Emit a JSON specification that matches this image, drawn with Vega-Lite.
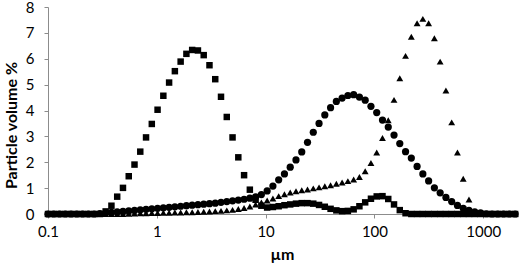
{
  "$schema": "https://vega.github.io/schema/vega-lite/v6.json",
  "width": 468,
  "height": 207,
  "autosize": {"type": "none"},
  "padding": {"left": 48, "top": 7, "right": 3, "bottom": 60},
  "config": {"view": {"stroke": null}, "font": "Lato"},
  "datasets": {
    "pts": [
      {"x":0.1,"s":"sq","v":0},{"x":0.113,"s":"sq","v":0},{"x":0.1276,"s":"sq","v":0},{"x":0.1442,"s":"sq","v":0},{"x":0.1629,"s":"sq","v":0},{"x":0.1841,"s":"sq","v":0},{"x":0.208,"s":"sq","v":0},{"x":0.235,"s":"sq","v":0},{"x":0.2655,"s":"sq","v":0},{"x":0.2999,"s":"sq","v":0},
      {"x":0.3388,"s":"sq","v":0.1},{"x":0.3828,"s":"sq","v":0.32},{"x":0.4325,"s":"sq","v":0.67},{"x":0.4887,"s":"sq","v":1.01},{"x":0.5521,"s":"sq","v":1.46},{"x":0.6237,"s":"sq","v":1.91},{"x":0.7047,"s":"sq","v":2.41},{"x":0.7962,"s":"sq","v":2.96},{"x":0.8995,"s":"sq","v":3.48},{"x":1.0162,"s":"sq","v":4.03},
      {"x":1.1482,"s":"sq","v":4.57},{"x":1.2972,"s":"sq","v":5.08},{"x":1.4655,"s":"sq","v":5.52},{"x":1.6558,"s":"sq","v":5.89},{"x":1.8707,"s":"sq","v":6.19},{"x":2.1135,"s":"sq","v":6.34},{"x":2.3878,"s":"sq","v":6.32},{"x":2.6977,"s":"sq","v":6.14},{"x":3.0479,"s":"sq","v":5.75},{"x":3.4435,"s":"sq","v":5.21},
      {"x":3.8905,"s":"sq","v":4.53},{"x":4.3954,"s":"sq","v":3.75},{"x":4.9659,"s":"sq","v":2.96},{"x":5.6105,"s":"sq","v":2.19},{"x":6.3387,"s":"sq","v":1.5},{"x":7.1614,"s":"sq","v":0.94},{"x":8.091,"s":"sq","v":0.55},{"x":9.1411,"s":"sq","v":0.32},{"x":10.328,"s":"sq","v":0.25},{"x":11.668,"s":"sq","v":0.27},
      {"x":13.183,"s":"sq","v":0.3},{"x":14.894,"s":"sq","v":0.34},{"x":16.827,"s":"sq","v":0.37},{"x":19.011,"s":"sq","v":0.4},{"x":21.478,"s":"sq","v":0.42},{"x":24.266,"s":"sq","v":0.42},{"x":27.416,"s":"sq","v":0.4},{"x":30.974,"s":"sq","v":0.35},{"x":34.995,"s":"sq","v":0.28},{"x":39.537,"s":"sq","v":0.2},
      {"x":44.668,"s":"sq","v":0.14},{"x":50.466,"s":"sq","v":0.11},{"x":57.016,"s":"sq","v":0.12},{"x":64.417,"s":"sq","v":0.18},{"x":72.778,"s":"sq","v":0.3},{"x":82.224,"s":"sq","v":0.45},{"x":92.896,"s":"sq","v":0.59},{"x":104.95,"s":"sq","v":0.68},{"x":118.58,"s":"sq","v":0.69},{"x":133.97,"s":"sq","v":0.58},
      {"x":151.36,"s":"sq","v":0.37},{"x":171.0,"s":"sq","v":0.15},{"x":193.2,"s":"sq","v":0.03},{"x":218.27,"s":"sq","v":0},{"x":246.6,"s":"sq","v":0},{"x":278.61,"s":"sq","v":0},{"x":314.77,"s":"sq","v":0},{"x":355.63,"s":"sq","v":0},{"x":401.79,"s":"sq","v":0},{"x":453.94,"s":"sq","v":0},
      {"x":512.86,"s":"sq","v":0},{"x":579.42,"s":"sq","v":0},{"x":654.64,"s":"sq","v":0},{"x":739.6,"s":"sq","v":0},{"x":835.6,"s":"sq","v":0},{"x":944.06,"s":"sq","v":0},{"x":1066.6,"s":"sq","v":0},{"x":1205.0,"s":"sq","v":0},{"x":1361.4,"s":"sq","v":0},{"x":1538.1,"s":"sq","v":0},
      {"x":1737.8,"s":"sq","v":0},{"x":1963.4,"s":"sq","v":0},

      {"x":0.1,"s":"tr","v":0},{"x":0.113,"s":"tr","v":0},{"x":0.1276,"s":"tr","v":0},{"x":0.1442,"s":"tr","v":0},{"x":0.1629,"s":"tr","v":0},{"x":0.1841,"s":"tr","v":0},{"x":0.208,"s":"tr","v":0},{"x":0.235,"s":"tr","v":0},{"x":0.2655,"s":"tr","v":0},{"x":0.2999,"s":"tr","v":0},
      {"x":0.3388,"s":"tr","v":0},{"x":0.3828,"s":"tr","v":0},{"x":0.4325,"s":"tr","v":0},{"x":0.4887,"s":"tr","v":0},{"x":0.5521,"s":"tr","v":0.01},{"x":0.6237,"s":"tr","v":0.02},{"x":0.7047,"s":"tr","v":0.03},{"x":0.7962,"s":"tr","v":0.03},{"x":0.8995,"s":"tr","v":0.04},{"x":1.0162,"s":"tr","v":0.04},
      {"x":1.1482,"s":"tr","v":0.05},{"x":1.2972,"s":"tr","v":0.05},{"x":1.4655,"s":"tr","v":0.06},{"x":1.6558,"s":"tr","v":0.06},{"x":1.8707,"s":"tr","v":0.07},{"x":2.1135,"s":"tr","v":0.07},{"x":2.3878,"s":"tr","v":0.08},{"x":2.6977,"s":"tr","v":0.09},{"x":3.0479,"s":"tr","v":0.1},{"x":3.4435,"s":"tr","v":0.11},
      {"x":3.8905,"s":"tr","v":0.12},{"x":4.3954,"s":"tr","v":0.14},{"x":4.9659,"s":"tr","v":0.16},{"x":5.6105,"s":"tr","v":0.19},{"x":6.3387,"s":"tr","v":0.23},{"x":7.1614,"s":"tr","v":0.29},{"x":8.091,"s":"tr","v":0.37},{"x":9.1411,"s":"tr","v":0.45},{"x":10.328,"s":"tr","v":0.52},{"x":11.668,"s":"tr","v":0.6},
      {"x":13.183,"s":"tr","v":0.69},{"x":14.894,"s":"tr","v":0.76},{"x":16.827,"s":"tr","v":0.83},{"x":19.011,"s":"tr","v":0.88},{"x":21.478,"s":"tr","v":0.92},{"x":24.266,"s":"tr","v":0.95},{"x":27.416,"s":"tr","v":0.99},{"x":30.974,"s":"tr","v":1.03},{"x":34.995,"s":"tr","v":1.07},{"x":39.537,"s":"tr","v":1.11},
      {"x":44.668,"s":"tr","v":1.17},{"x":50.466,"s":"tr","v":1.22},{"x":57.016,"s":"tr","v":1.27},{"x":64.417,"s":"tr","v":1.33},{"x":72.778,"s":"tr","v":1.43},{"x":82.224,"s":"tr","v":1.65},{"x":92.896,"s":"tr","v":1.97},{"x":104.95,"s":"tr","v":2.38},{"x":118.58,"s":"tr","v":2.94},{"x":133.97,"s":"tr","v":3.62},
      {"x":151.36,"s":"tr","v":4.41},{"x":171.0,"s":"tr","v":5.25},{"x":193.2,"s":"tr","v":6.11},{"x":218.27,"s":"tr","v":6.85},{"x":246.6,"s":"tr","v":7.37},{"x":278.61,"s":"tr","v":7.54},{"x":314.77,"s":"tr","v":7.37},{"x":355.63,"s":"tr","v":6.79},{"x":401.79,"s":"tr","v":5.89},{"x":453.94,"s":"tr","v":4.77},
      {"x":512.86,"s":"tr","v":3.54},{"x":579.42,"s":"tr","v":2.38},{"x":654.64,"s":"tr","v":1.36},{"x":739.6,"s":"tr","v":0.56},{"x":835.6,"s":"tr","v":0.08},{"x":944.06,"s":"tr","v":0},{"x":1066.6,"s":"tr","v":0},{"x":1205.0,"s":"tr","v":0},{"x":1361.4,"s":"tr","v":0},{"x":1538.1,"s":"tr","v":0},
      {"x":1737.8,"s":"tr","v":0},{"x":1963.4,"s":"tr","v":0},

      {"x":0.1,"s":"ci","v":0},{"x":0.113,"s":"ci","v":0},{"x":0.1276,"s":"ci","v":0},{"x":0.1442,"s":"ci","v":0},{"x":0.1629,"s":"ci","v":0},{"x":0.1841,"s":"ci","v":0},{"x":0.208,"s":"ci","v":0},{"x":0.235,"s":"ci","v":0},{"x":0.2655,"s":"ci","v":0},{"x":0.2999,"s":"ci","v":0.02},
      {"x":0.3388,"s":"ci","v":0.04},{"x":0.3828,"s":"ci","v":0.06},{"x":0.4325,"s":"ci","v":0.08},{"x":0.4887,"s":"ci","v":0.1},{"x":0.5521,"s":"ci","v":0.12},{"x":0.6237,"s":"ci","v":0.14},{"x":0.7047,"s":"ci","v":0.16},{"x":0.7962,"s":"ci","v":0.18},{"x":0.8995,"s":"ci","v":0.2},{"x":1.0162,"s":"ci","v":0.22},
      {"x":1.1482,"s":"ci","v":0.24},{"x":1.2972,"s":"ci","v":0.26},{"x":1.4655,"s":"ci","v":0.28},{"x":1.6558,"s":"ci","v":0.3},{"x":1.8707,"s":"ci","v":0.32},{"x":2.1135,"s":"ci","v":0.34},{"x":2.3878,"s":"ci","v":0.36},{"x":2.6977,"s":"ci","v":0.38},{"x":3.0479,"s":"ci","v":0.4},{"x":3.4435,"s":"ci","v":0.42},
      {"x":3.8905,"s":"ci","v":0.45},{"x":4.3954,"s":"ci","v":0.48},{"x":4.9659,"s":"ci","v":0.51},{"x":5.6105,"s":"ci","v":0.54},{"x":6.3387,"s":"ci","v":0.57},{"x":7.1614,"s":"ci","v":0.61},{"x":8.091,"s":"ci","v":0.66},{"x":9.1411,"s":"ci","v":0.75},{"x":10.328,"s":"ci","v":0.89},{"x":11.668,"s":"ci","v":1.08},
      {"x":13.183,"s":"ci","v":1.32},{"x":14.894,"s":"ci","v":1.55},{"x":16.827,"s":"ci","v":1.81},{"x":19.011,"s":"ci","v":2.09},{"x":21.478,"s":"ci","v":2.4},{"x":24.266,"s":"ci","v":2.77},{"x":27.416,"s":"ci","v":3.16},{"x":30.974,"s":"ci","v":3.5},{"x":34.995,"s":"ci","v":3.83},{"x":39.537,"s":"ci","v":4.11},
      {"x":44.668,"s":"ci","v":4.35},{"x":50.466,"s":"ci","v":4.48},{"x":57.016,"s":"ci","v":4.58},{"x":64.417,"s":"ci","v":4.61},{"x":72.778,"s":"ci","v":4.52},{"x":82.224,"s":"ci","v":4.4},{"x":92.896,"s":"ci","v":4.16},{"x":104.95,"s":"ci","v":3.92},{"x":118.58,"s":"ci","v":3.63},{"x":133.97,"s":"ci","v":3.36},
      {"x":151.36,"s":"ci","v":3.05},{"x":171.0,"s":"ci","v":2.72},{"x":193.2,"s":"ci","v":2.41},{"x":218.27,"s":"ci","v":2.16},{"x":246.6,"s":"ci","v":1.84},{"x":278.61,"s":"ci","v":1.55},{"x":314.77,"s":"ci","v":1.28},{"x":355.63,"s":"ci","v":1.01},{"x":401.79,"s":"ci","v":0.82},{"x":453.94,"s":"ci","v":0.64},
      {"x":512.86,"s":"ci","v":0.48},{"x":579.42,"s":"ci","v":0.33},{"x":654.64,"s":"ci","v":0.22},{"x":739.6,"s":"ci","v":0.14},{"x":835.6,"s":"ci","v":0.08},{"x":944.06,"s":"ci","v":0.04},{"x":1066.6,"s":"ci","v":0.01},{"x":1205.0,"s":"ci","v":0},{"x":1361.4,"s":"ci","v":0},{"x":1538.1,"s":"ci","v":0},
      {"x":1737.8,"s":"ci","v":0},{"x":1963.4,"s":"ci","v":0}
    ]
  },
  "data": {"name": "pts"},
  "mark": {"type": "point", "filled": true, "opacity": 1, "color": "black"},
  "encoding": {
    "x": {
      "field": "x", "type": "quantitative",
      "scale": {"type": "log", "domain": [0.1, 2000], "nice": false},
      "axis": {
        "values": [0.1, 1, 10, 100, 1000], "format": "~g", "grid": false,
        "title": "µm", "titleFontSize": 16, "titleFontWeight": "bold", "titleColor": "black", "titlePadding": 7,
        "labelFontSize": 15, "labelColor": "black", "labelPadding": 6, "labelFlush": false,
        "domainColor": "#8c8c8c", "tickColor": "#8c8c8c", "tickSize": 4
      }
    },
    "y": {
      "field": "v", "type": "quantitative",
      "scale": {"domain": [0, 8], "nice": false},
      "axis": {
        "values": [0, 1, 2, 3, 4, 5, 6, 7, 8], "grid": false,
        "title": "Particle volume %", "titleFontSize": 16, "titleFontWeight": "bold", "titleColor": "black", "titlePadding": 6, "titleY": 118,
        "labelFontSize": 15, "labelColor": "black", "labelPadding": 10,
        "domainColor": "#8c8c8c", "tickColor": "#8c8c8c", "tickSize": 4
      }
    },
    "shape": {
      "field": "s", "type": "nominal",
      "scale": {"domain": ["sq", "tr", "ci"], "range": ["square", "triangle-up", "circle"]},
      "legend": null
    },
    "size": {
      "field": "s", "type": "nominal",
      "scale": {"domain": ["sq", "tr", "ci"], "range": [42, 52, 44]},
      "legend": null
    }
  }
}
